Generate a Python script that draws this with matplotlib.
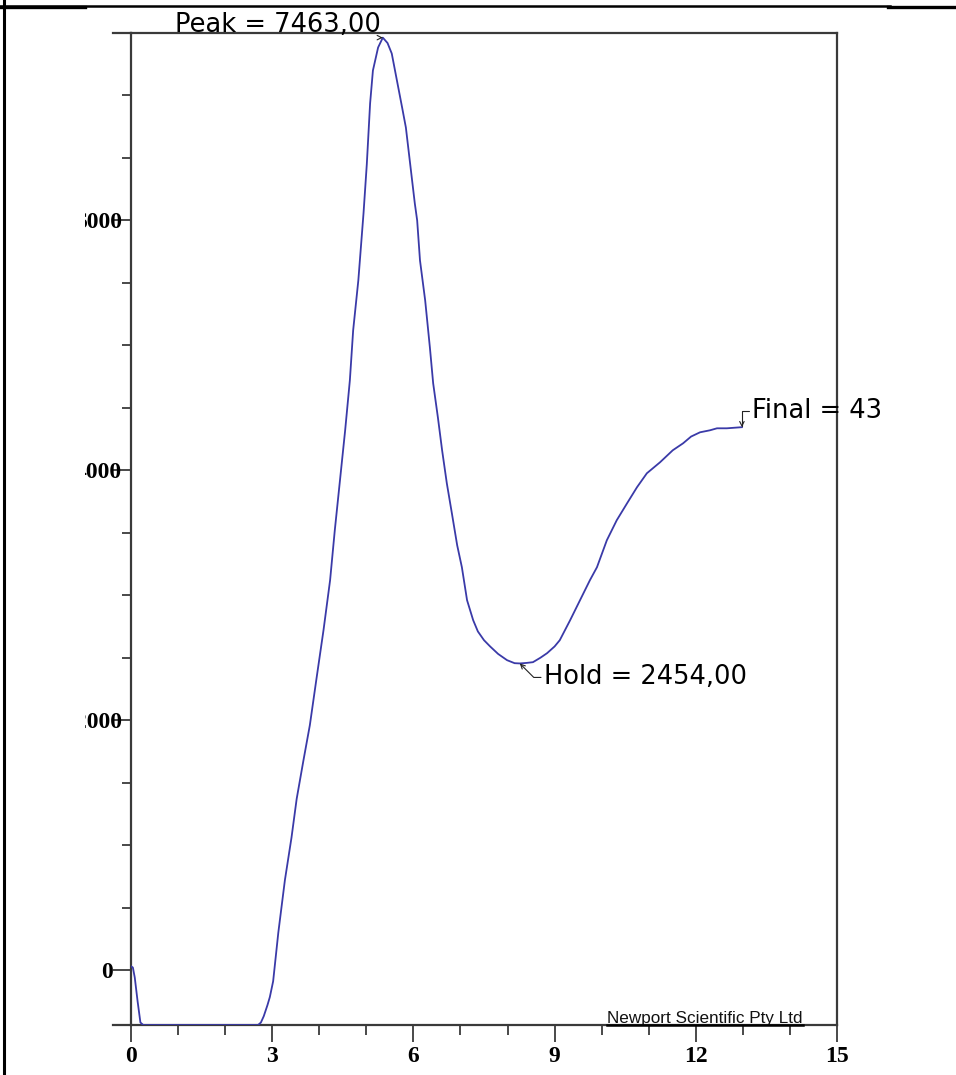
import matplotlib
matplotlib.use("Agg")
import matplotlib.pyplot as plt
import matplotlib.ticker as mticker
import numpy as np
from matplotlib.lines import Line2D
from matplotlib.patches import Rectangle
from matplotlib.transforms import ScaledTranslation

# RVA pasting curve (time in min, viscosity in cP)
time_min = [0.00, 0.04, 0.08, 0.14, 0.20, 0.26, 1.00, 2.00, 2.70, 2.76, 2.82,
            2.90, 2.95, 3.02, 3.13, 3.27, 3.41, 3.52, 3.66, 3.80, 3.94, 4.09,
            4.23, 4.33, 4.44, 4.55, 4.65, 4.72, 4.83, 4.94, 5.01, 5.08, 5.14,
            5.25, 5.35, 5.45, 5.54, 5.65, 5.76, 5.84, 5.93, 6.03, 6.08, 6.14,
            6.25, 6.35, 6.42, 6.52, 6.61, 6.71, 6.82, 6.93, 7.03, 7.14, 7.27,
            7.37, 7.50, 7.63, 7.80, 7.99, 8.15, 8.26, 8.40, 8.54, 8.70, 8.84,
            9.00, 9.11, 9.33, 9.54, 9.75, 9.90, 10.11, 10.32, 10.54, 10.75,
            10.96, 11.24, 11.51, 11.73, 11.90, 12.09, 12.30, 12.45, 12.66,
            12.80, 12.98]
viscosity_cp = [30, 20, -60, -250, -420, -440, -440, -440, -440, -420, -370,
                -280, -216, -90, 300, 720, 1060, 1370, 1670, 1960, 2330, 2720,
                3120, 3520, 3920, 4320, 4720, 5120, 5520, 6056, 6450, 6936, 7200,
                7384, 7463, 7420, 7336, 7120, 6904, 6744, 6456, 6136, 6000, 5680,
                5360, 4984, 4696, 4424, 4160, 3896, 3650, 3400, 3224, 2960, 2800,
                2710, 2640, 2590, 2530, 2480, 2456, 2454, 2458, 2464, 2500, 2536,
                2590, 2640, 2800, 2960, 3120, 3224, 3440, 3600, 3736, 3864,
                3976, 4064, 4160, 4216, 4270, 4304, 4320, 4336, 4336,
                4340, 4345]

x_major = [0, 3, 6, 9, 12, 15]
y_major = [0, 2000, 4000, 6000]
y_labels = ["0", "2000", "4000", "6000"]

t = np.array(time_min)
v = np.array(viscosity_cp)
i_peak = int(np.argmax(v))
i_hold = i_peak + int(np.argmin(v[i_peak:]))
i_final = len(v) - 1

W, H, DPI = 956, 1075, 100
fig = plt.figure(figsize=(W / DPI, H / DPI), dpi=DPI)
ax = fig.add_axes([131 / W, 50 / H, 706 / W, 992 / H])

ax.plot(t, v, color="#3a3aa8", lw=1.3, zorder=3)
ax.set_xlim(0, 15)
ax.set_ylim(-440, 7500)

axis_col = "#3a3a3a"
for s in ax.spines.values():
    s.set_color(axis_col)
    s.set_linewidth(1.6)

ax.xaxis.set_major_locator(mticker.FixedLocator(x_major))
ax.xaxis.set_minor_locator(mticker.MultipleLocator(1))
ax.yaxis.set_major_locator(mticker.FixedLocator(y_major))
ax.yaxis.set_major_formatter(mticker.FixedFormatter(y_labels))
ax.yaxis.set_minor_locator(mticker.FixedLocator([m for m in range(500, 7500, 500) if m % 2000]))
ax.tick_params(axis="both", which="both", direction="out", color=axis_col, width=1.3)
ax.tick_params(axis="x", which="major", length=12, pad=3)
ax.tick_params(axis="x", which="minor", length=7)
ax.tick_params(axis="y", which="major", length=13, pad=0)
ax.tick_params(axis="y", which="minor", length=6.5)
for lab in ax.get_xticklabels() + ax.get_yticklabels():
    lab.set_fontfamily("Liberation Serif")
    lab.set_fontweight("bold")
    lab.set_fontsize(17)
    lab.set_color("black")
for lab in ax.get_yticklabels():
    if lab.get_text() != "0":
        lab.set_transform(lab.get_transform() + ScaledTranslation(0.09, 0, fig.dpi_scale_trans))

# frame lines that run past the y axis on the left
for yy in (0, 1):
    ax.plot([-18 / 706, 0], [yy, yy], transform=ax.transAxes, color=axis_col,
            lw=1.6, clip_on=False)

ann_font = dict(family="DejaVu Sans", fontsize=18.5, color="black")
arrow = dict(arrowstyle="->", color="#222222", lw=0.8, mutation_scale=8, shrinkA=0, shrinkB=0)

ax.annotate(f"Peak = {v[i_peak]:.2f}".replace(".", ","), xy=(t[i_peak], v[i_peak]),
            xytext=(-2, 6), textcoords="offset pixels", ha="right", va="baseline",
            arrowprops=dict(arrow, relpos=(1, 0)), annotation_clip=False, **ann_font)
ax.annotate(f"Hold = {v[i_hold]:.2f}".replace(".", ","), xy=(t[i_hold], v[i_hold]),
            xytext=(24, -14), textcoords="offset pixels", ha="left", va="center",
            arrowprops=dict(arrow, relpos=(0, 0.5),
                            connectionstyle="angle,angleA=0,angleB=-45,rad=0"),
            **ann_font)
ax.annotate("Final = 43", xy=(t[i_final], v[i_final]),
            xytext=(10, 16), textcoords="offset pixels", ha="left", va="center",
            arrowprops=dict(arrow, relpos=(0, 0.5),
                            connectionstyle="angle,angleA=0,angleB=90,rad=0"),
            annotation_clip=False, **ann_font)

brand = ax.text(476 / 706, 2 / 992, "Newport Scientific Pty Ltd", transform=ax.transAxes,
                ha="left", va="baseline", family="Liberation Sans", fontsize=12.3,
                color="#111111")
fig.canvas.draw()
bb = brand.get_window_extent().transformed(ax.transAxes.inverted())
ax.plot([bb.x0, bb.x1], [0, 0], transform=ax.transAxes, color="black", lw=1.8,
        clip_on=False, zorder=4)

# the source image is cut off on the left, hiding the leading digits
fig.add_artist(Rectangle((6 / W, 0), (85 - 6) / W, 1, transform=fig.transFigure,
                         facecolor="white", edgecolor="none", zorder=5))
for xs, ys, lw in [([4 / W, 4 / W], [0, 1], 2.2),
                   ([0, 890 / W], [1 - 5.5 / H, 1 - 5.5 / H], 1.8),
                   ([0, 85 / W], [1 - 6.5 / H, 1 - 6.5 / H], 2.4),
                   ([888 / W, 1], [1 - 6.5 / H, 1 - 6.5 / H], 2.4)]:
    fig.add_artist(Line2D(xs, ys, transform=fig.transFigure, color="black", lw=lw, zorder=6))

fig.savefig("out.png", dpi=DPI)
